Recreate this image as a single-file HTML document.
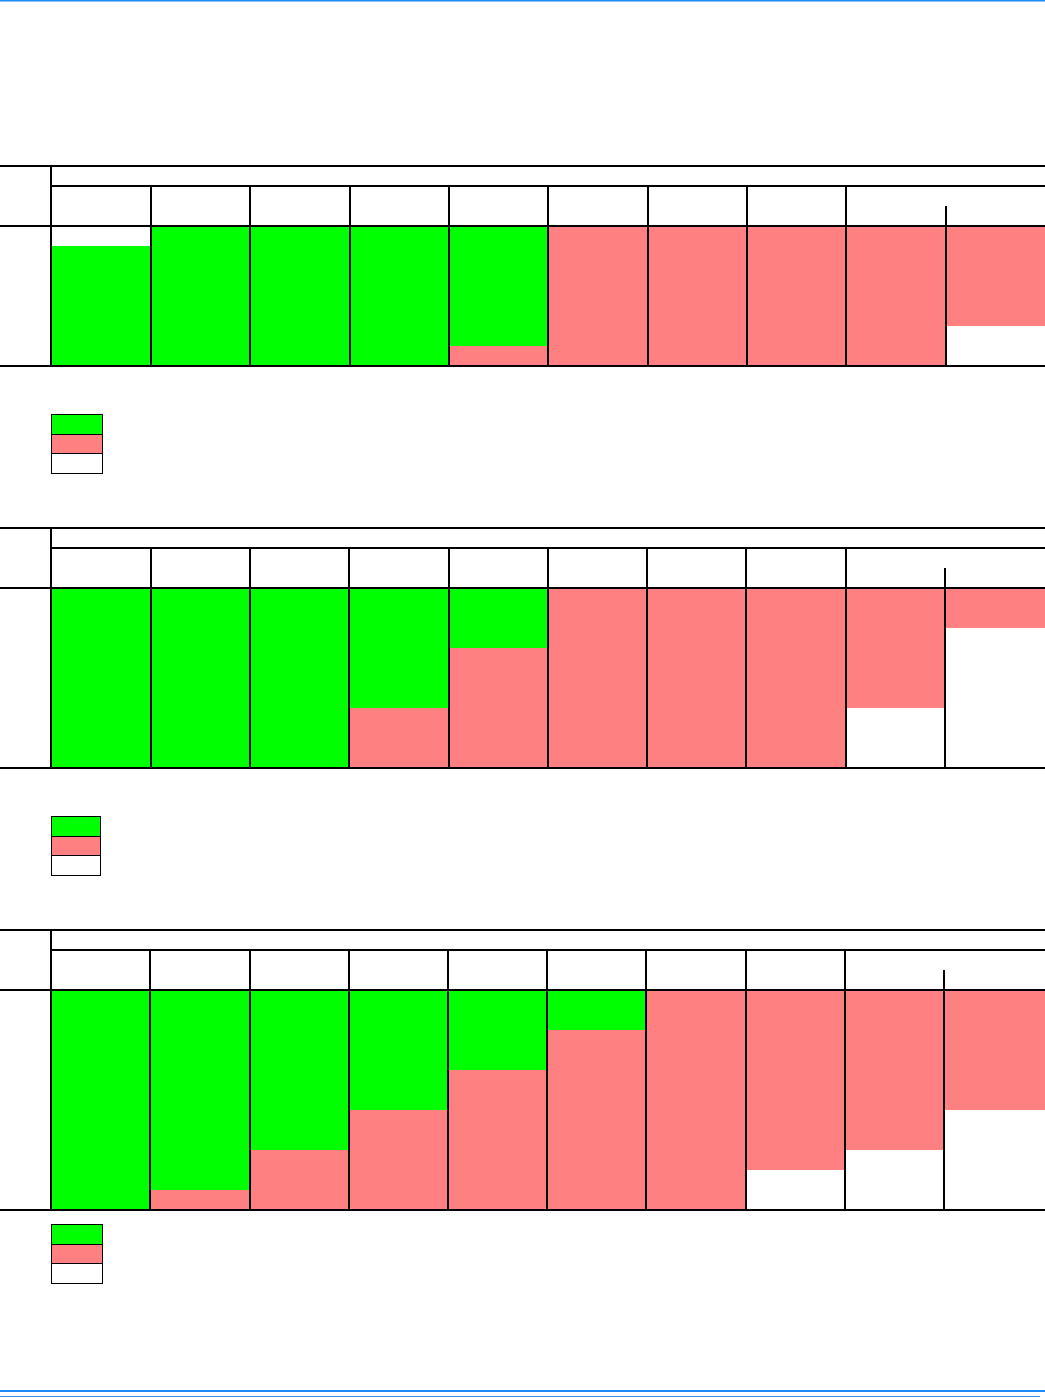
<!DOCTYPE html>
<html><head><meta charset="utf-8"><style>html,body{margin:0;padding:0;background:#fff}svg{display:block}</style></head>
<body>
<svg width="1045" height="1398" xmlns="http://www.w3.org/2000/svg">
<rect x="0" y="0" width="1045" height="1398" fill="#fff"/>
<rect x="0" y="0" width="1045" height="1.5" fill="#1e88f5"/>
<rect x="0" y="1390" width="1045" height="2" fill="#1e88f5"/>
<rect x="0" y="1396" width="1040" height="1" fill="#3a95f0"/>

<!-- Table 1 -->
<g>
<rect x="51" y="246" width="100" height="120" fill="#00ff00"/>
<rect x="151" y="226" width="298" height="140" fill="#00ff00"/>
<rect x="449" y="226" width="99" height="120" fill="#00ff00"/>
<rect x="449" y="346" width="99" height="20" fill="#ff8080"/>
<rect x="548" y="226" width="398" height="140" fill="#ff8080"/>
<rect x="946" y="226" width="99" height="100" fill="#ff8080"/>
<g stroke="#000" stroke-width="2">
<line x1="0" y1="166" x2="1045" y2="166"/>
<line x1="51" y1="186" x2="1045" y2="186"/>
<line x1="0" y1="226" x2="1045" y2="226"/>
<line x1="0" y1="366" x2="1045" y2="366"/>
<line x1="51" y1="166" x2="51" y2="366"/>
<line x1="151" y1="186" x2="151" y2="366"/>
<line x1="250" y1="186" x2="250" y2="366"/>
<line x1="350" y1="186" x2="350" y2="366"/>
<line x1="449" y1="186" x2="449" y2="366"/>
<line x1="548" y1="186" x2="548" y2="366"/>
<line x1="648" y1="186" x2="648" y2="366"/>
<line x1="747" y1="186" x2="747" y2="366"/>
<line x1="846" y1="186" x2="846" y2="366"/>
<line x1="946" y1="206" x2="946" y2="366"/>
</g>
<rect x="51.5" y="414.5" width="51" height="20" fill="#00ff00" stroke="#000"/>
<rect x="51.5" y="434.5" width="51" height="19" fill="#ff8080" stroke="#000"/>
<rect x="51.5" y="453.5" width="51" height="20" fill="#fff" stroke="#000"/>
</g>

<!-- Table 2 -->
<g>
<rect x="51" y="588" width="298" height="180" fill="#00ff00"/>
<rect x="349" y="588" width="100" height="120" fill="#00ff00"/>
<rect x="349" y="708" width="100" height="60" fill="#ff8080"/>
<rect x="449" y="588" width="99" height="60" fill="#00ff00"/>
<rect x="449" y="648" width="99" height="120" fill="#ff8080"/>
<rect x="548" y="588" width="298" height="180" fill="#ff8080"/>
<rect x="846" y="588" width="99" height="120" fill="#ff8080"/>
<rect x="945" y="588" width="100" height="40" fill="#ff8080"/>
<g stroke="#000" stroke-width="2">
<line x1="0" y1="528" x2="1045" y2="528"/>
<line x1="51" y1="548" x2="1045" y2="548"/>
<line x1="0" y1="588" x2="1045" y2="588"/>
<line x1="0" y1="768" x2="1045" y2="768"/>
<line x1="51" y1="528" x2="51" y2="768"/>
<line x1="151" y1="548" x2="151" y2="768"/>
<line x1="250" y1="548" x2="250" y2="768"/>
<line x1="349" y1="548" x2="349" y2="768"/>
<line x1="449" y1="548" x2="449" y2="768"/>
<line x1="548" y1="548" x2="548" y2="768"/>
<line x1="647" y1="548" x2="647" y2="768"/>
<line x1="746" y1="548" x2="746" y2="768"/>
<line x1="846" y1="548" x2="846" y2="768"/>
<line x1="945" y1="568" x2="945" y2="768"/>
</g>
<rect x="51.5" y="816.5" width="49" height="20" fill="#00ff00" stroke="#000"/>
<rect x="51.5" y="836.5" width="49" height="19" fill="#ff8080" stroke="#000"/>
<rect x="51.5" y="855.5" width="49" height="20" fill="#fff" stroke="#000"/>
</g>

<!-- Table 3 -->
<g>
<rect x="51" y="990" width="99" height="220" fill="#00ff00"/>
<rect x="150" y="990" width="100" height="200" fill="#00ff00"/>
<rect x="150" y="1190" width="100" height="20" fill="#ff8080"/>
<rect x="250" y="990" width="99" height="160" fill="#00ff00"/>
<rect x="250" y="1150" width="99" height="60" fill="#ff8080"/>
<rect x="349" y="990" width="99" height="120" fill="#00ff00"/>
<rect x="349" y="1110" width="99" height="100" fill="#ff8080"/>
<rect x="448" y="990" width="99" height="80" fill="#00ff00"/>
<rect x="448" y="1070" width="99" height="140" fill="#ff8080"/>
<rect x="547" y="990" width="99" height="40" fill="#00ff00"/>
<rect x="547" y="1030" width="99" height="180" fill="#ff8080"/>
<rect x="646" y="990" width="100" height="220" fill="#ff8080"/>
<rect x="746" y="990" width="99" height="180" fill="#ff8080"/>
<rect x="845" y="990" width="99" height="160" fill="#ff8080"/>
<rect x="944" y="990" width="101" height="120" fill="#ff8080"/>
<g stroke="#000" stroke-width="2">
<line x1="0" y1="930" x2="1045" y2="930"/>
<line x1="51" y1="950" x2="1045" y2="950"/>
<line x1="0" y1="990" x2="1045" y2="990"/>
<line x1="0" y1="1210" x2="1045" y2="1210"/>
<line x1="51" y1="930" x2="51" y2="1210"/>
<line x1="150" y1="950" x2="150" y2="1210"/>
<line x1="250" y1="950" x2="250" y2="1210"/>
<line x1="349" y1="950" x2="349" y2="1210"/>
<line x1="448" y1="950" x2="448" y2="1210"/>
<line x1="547" y1="950" x2="547" y2="1210"/>
<line x1="646" y1="950" x2="646" y2="1210"/>
<line x1="746" y1="950" x2="746" y2="1210"/>
<line x1="845" y1="950" x2="845" y2="1210"/>
<line x1="944" y1="970" x2="944" y2="1210"/>
</g>
<rect x="51.5" y="1224.5" width="51" height="20" fill="#00ff00" stroke="#000"/>
<rect x="51.5" y="1244.5" width="51" height="19" fill="#ff8080" stroke="#000"/>
<rect x="51.5" y="1263.5" width="51" height="20" fill="#fff" stroke="#000"/>
</g>
</svg>
</body></html>
